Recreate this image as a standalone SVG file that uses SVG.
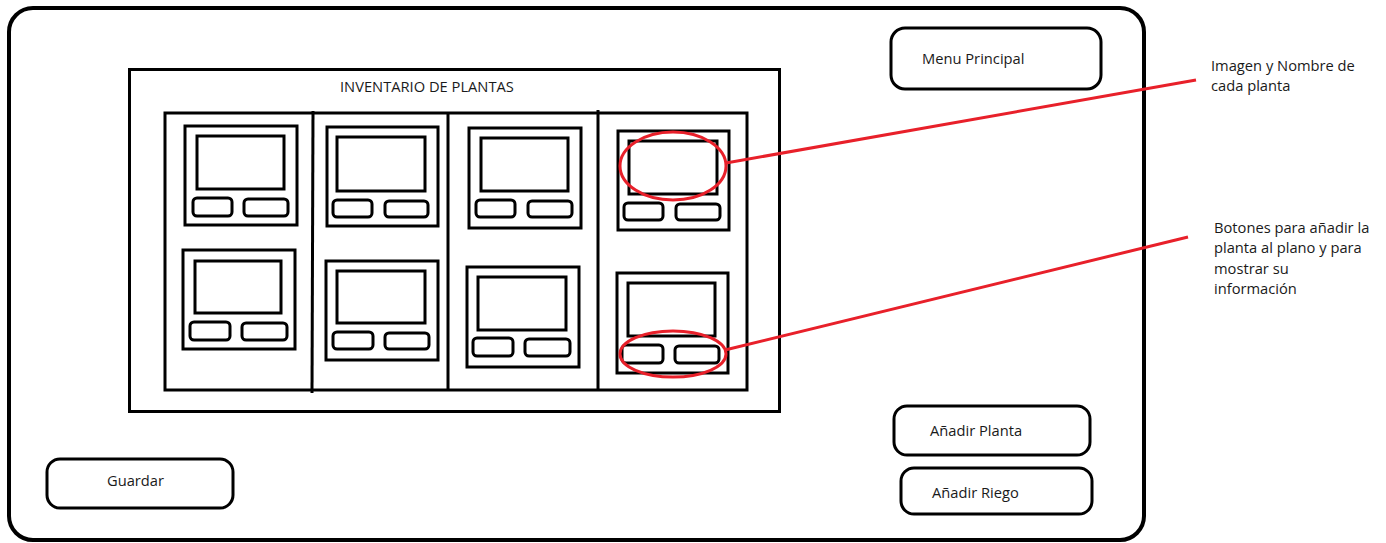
<svg xmlns="http://www.w3.org/2000/svg" width="1386" height="543" viewBox="0 0 1386 543">
<style>
.k{fill:none;stroke:#000;stroke-width:3}
.b{fill:none;stroke:#000;stroke-width:3;}
.r{fill:none;stroke:#e8202a;stroke-width:3}
.t{font-family:"Open Sans","Liberation Sans",sans-serif;font-size:14.7px;fill:#1a1a1a}
</style>
<rect width="1386" height="543" fill="#fff"/>
<g id="frame"><rect x="9" y="8" width="1135" height="532" rx="24" fill="none" stroke="#000" stroke-width="4"/></g>
<g id="inventario">
<rect class="k" x="129.5" y="69.5" width="650" height="342"/>
<text class="t" x="340" y="92" font-size="13.6">INVENTARIO DE PLANTAS</text>
<rect class="k" x="165" y="113" width="582" height="277"/>
<line class="k" x1="313" y1="111" x2="312" y2="393"/>
<line class="k" x1="448" y1="113" x2="448" y2="390"/>
<line class="k" x1="598" y1="110" x2="598" y2="390"/>
</g>
<g id="card1"><rect class="k" x="185" y="126" width="112" height="99"/><rect class="k" x="197" y="136" width="87" height="53"/><rect class="b" x="193" y="198" width="39" height="18" rx="4"/><rect class="b" x="244" y="199" width="44" height="17" rx="4"/></g>
<g id="card2"><rect class="k" x="327" y="127" width="111" height="99"/><rect class="k" x="337" y="137" width="88" height="54"/><rect class="b" x="333" y="200" width="39" height="17" rx="4"/><rect class="b" x="385" y="201" width="43" height="16" rx="4"/></g>
<g id="card3"><rect class="k" x="469" y="128" width="112" height="100"/><rect class="k" x="481" y="138" width="87" height="53"/><rect class="b" x="476" y="200" width="39" height="17" rx="4"/><rect class="b" x="528" y="201" width="44" height="16" rx="4"/></g>
<g id="card4"><rect class="k" x="618" y="131" width="111" height="99"/><rect class="k" x="629" y="141" width="88" height="53"/><rect class="b" x="624" y="203" width="39" height="17" rx="4"/><rect class="b" x="676" y="204" width="44" height="16" rx="4"/></g>
<g id="card5"><rect class="k" x="183" y="250" width="112" height="99"/><rect class="k" x="195" y="261" width="86" height="52"/><rect class="b" x="190" y="322" width="40" height="18" rx="4"/><rect class="b" x="242" y="323" width="45" height="17" rx="4"/></g>
<g id="card6"><rect class="k" x="326" y="261" width="112" height="99"/><rect class="k" x="337" y="271" width="88" height="52"/><rect class="b" x="333" y="332" width="40" height="17" rx="4"/><rect class="b" x="385" y="333" width="44" height="16" rx="4"/></g>
<g id="card7"><rect class="k" x="467" y="267" width="112" height="100"/><rect class="k" x="478" y="277" width="88" height="53"/><rect class="b" x="473" y="338" width="40" height="18" rx="4"/><rect class="b" x="525" y="339" width="45" height="17" rx="4"/></g>
<g id="card8"><rect class="k" x="617" y="273" width="111" height="100"/><rect class="k" x="628" y="283" width="87" height="53"/><rect class="b" x="622" y="345" width="41" height="18" rx="4"/><rect class="b" x="675" y="346" width="44" height="17" rx="4"/></g>
<g id="menu"><rect class="k" x="891" y="28" width="210" height="61" rx="14"/><text class="t" x="922" y="64">Menu Principal</text></g>
<g id="anadir-planta"><rect class="k" x="894" y="406" width="196" height="49" rx="13"/><text class="t" x="930" y="436">Añadir Planta</text></g>
<g id="anadir-riego"><rect class="k" x="901" y="468" width="191" height="46" rx="13"/><text class="t" x="932" y="498">Añadir Riego</text></g>
<g id="guardar"><rect class="k" x="47" y="459" width="186" height="49" rx="13"/><text class="t" x="107" y="486">Guardar</text></g>
<g id="annotation1"><ellipse class="r" cx="673" cy="166" rx="53" ry="34"/><text class="t" x="1211" y="71">Imagen y Nombre de</text><text class="t" x="1211" y="91">cada planta</text></g>
<g id="annotation2"><ellipse class="r" cx="673" cy="354" rx="53" ry="23"/><text class="t" x="1214" y="233">Botones para añadir la</text><text class="t" x="1214" y="253">planta al plano y para</text><text class="t" x="1214" y="274">mostrar su</text><text class="t" x="1214" y="294">información</text></g>
<g id="connectors">
<line class="r" x1="726" y1="163" x2="1196" y2="80"/>
<line class="r" x1="725" y1="350" x2="1188" y2="237"/>
</g>
</svg>
